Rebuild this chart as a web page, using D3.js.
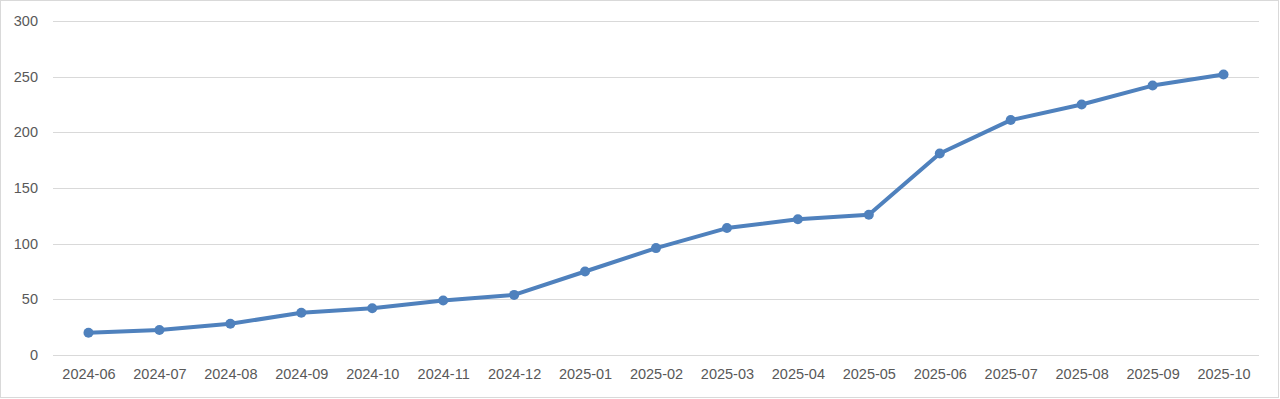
<!DOCTYPE html>
<html>
<head>
<meta charset="utf-8">
<script src="https://cdn.jsdelivr.net/npm/d3@7"></script>
<style>
  body { margin: 0; background: #fff; }
</style>
</head>
<body>
<div id="chart"></div>
<script>
// Data
var months = ["2024-06", "2024-07", "2024-08", "2024-09", "2024-10", "2024-11",
  "2024-12", "2025-01", "2025-02", "2025-03", "2025-04", "2025-05", "2025-06",
  "2025-07", "2025-08", "2025-09", "2025-10"];
var values = [20, 22.5, 28, 38, 42, 49, 54, 75, 96, 114, 122, 126, 181, 211, 225, 242, 252];
var yTicks = [0, 50, 100, 150, 200, 250, 300];

// Chart dimensions
var w = 1280;
var h = 399;
var margin = { top: 21, right: 21, bottom: 44, left: 53 };

var svg = d3
  .select("#chart")
  .append("svg")
  .attr("width", w)
  .attr("height", h);

// Outer border
svg
  .append("rect")
  .attr("x", 0.5)
  .attr("y", 0.5)
  .attr("width", w - 2)
  .attr("height", h - 2)
  .attr("fill", "#fff")
  .attr("stroke", "#d9d9d9");

// Scales
var xScale = d3
  .scalePoint()
  .domain(months)
  .range([margin.left, w - margin.right])
  .padding(0.5);

var yScale = d3
  .scaleLinear()
  .domain([0, 300])
  .range([h - margin.bottom, margin.top]);

// Gridlines
svg
  .append("g")
  .selectAll("line")
  .data(yTicks)
  .enter()
  .append("line")
  .attr("x1", margin.left)
  .attr("x2", w - margin.right)
  .attr("y1", (d) => Math.round(yScale(d)) + 0.5)
  .attr("y2", (d) => Math.round(yScale(d)) + 0.5)
  .attr("stroke", "#d9d9d9")
  .attr("stroke-width", 1);

// Y axis labels
var yAxis = d3.axisLeft(yScale).tickValues(yTicks).tickSize(0).tickPadding(15);
svg
  .append("g")
  .attr("transform", "translate(" + margin.left + ",0)")
  .call(yAxis)
  .call((g) => g.select(".domain").remove())
  .selectAll("text")
  .attr("fill", "#595959")
  .style("font-family", "'Liberation Sans', Arial, sans-serif")
  .style("font-size", "14.5px");

// X axis labels
var xAxis = d3.axisBottom(xScale).tickSize(0).tickPadding(14);
svg
  .append("g")
  .attr("transform", "translate(0," + (h - margin.bottom) + ")")
  .call(xAxis)
  .call((g) => g.select(".domain").remove())
  .selectAll("text")
  .attr("fill", "#595959")
  .style("font-family", "'Liberation Sans', Arial, sans-serif")
  .style("font-size", "14.5px");

// Line
var line = d3
  .line()
  .x((d, i) => xScale(months[i]))
  .y((d) => yScale(d));

svg
  .append("path")
  .datum(values)
  .attr("d", line)
  .attr("fill", "none")
  .attr("stroke", "#4f81bd")
  .attr("stroke-width", 4)
  .attr("stroke-linejoin", "round");

// Markers
svg
  .append("g")
  .selectAll("circle")
  .data(values)
  .enter()
  .append("circle")
  .attr("cx", (d, i) => xScale(months[i]))
  .attr("cy", (d) => yScale(d))
  .attr("r", 5)
  .attr("fill", "#4f81bd");
</script>
</body>
</html>
